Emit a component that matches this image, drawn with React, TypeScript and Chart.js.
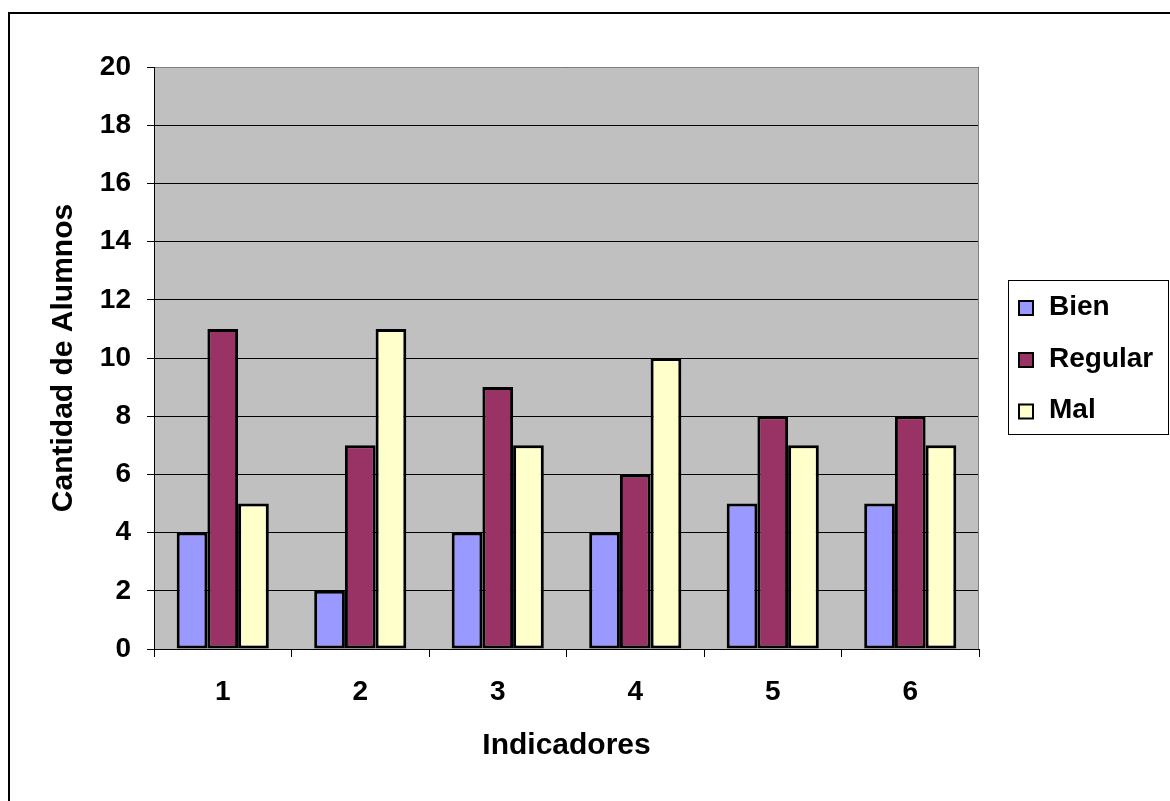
import React, { useEffect, useRef } from "react";
import { Chart, registerables } from "chart.js";

Chart.register(...registerables);

const categories = ["1", "2", "3", "4", "5", "6"];
const bien = [4, 2, 4, 4, 5, 5];
const regular = [11, 7, 9, 6, 8, 8];
const mal = [5, 11, 7, 10, 7, 7];
const seriesNames = ["Bien", "Regular", "Mal"];
const seriesColors = ["#9999FF", "#993366", "#FFFFCC"];
const yMin = 0;
const yMax = 20;
const yStep = 2;
const xTitle = "Indicadores";
const yTitle = "Cantidad de Alumnos";

const FONT = "'Liberation Sans', Arial, sans-serif";

const framePlugin = {
  id: "frame",
  beforeDraw(chart: any) {
    const { ctx, chartArea, width, height } = chart;
    ctx.save();
    ctx.fillStyle = "#FFFFFF";
    ctx.fillRect(0, 0, width, height);
    ctx.strokeStyle = "#000000";
    ctx.lineWidth = 2;
    ctx.strokeRect(9, 13, width + 10, height + 10);
    ctx.fillStyle = "#C0C0C0";
    ctx.fillRect(chartArea.left, chartArea.top, chartArea.right - chartArea.left, chartArea.bottom - chartArea.top);
    ctx.restore();
  },
  beforeDatasetsDraw(chart: any) {
    const { ctx, chartArea } = chart;
    ctx.save();
    ctx.strokeStyle = "#808080";
    ctx.lineWidth = 1;
    ctx.beginPath();
    ctx.moveTo(chartArea.left + 1, Math.round(chartArea.top) + 0.5);
    ctx.lineTo(Math.round(chartArea.right) - 0.5, Math.round(chartArea.top) + 0.5);
    ctx.lineTo(Math.round(chartArea.right) - 0.5, chartArea.bottom);
    ctx.stroke();
    ctx.restore();
  },
  afterDraw(chart: any) {
    const { ctx } = chart;
    ctx.save();
    ctx.strokeStyle = "#000000";
    ctx.lineWidth = 1;
    ctx.strokeRect(1008.5, 280.5, 160, 154);
    const centers = [308, 360, 411.5];
    chart.data.datasets.forEach((ds: any, i: number) => {
      const cy = centers[i];
      ctx.fillStyle = ds.backgroundColor;
      ctx.fillRect(1018, cy - 8, 16, 16);
      ctx.lineWidth = 2;
      ctx.strokeStyle = "#000000";
      ctx.strokeRect(1019, cy - 7, 14, 14);
      ctx.fillStyle = "#000000";
      ctx.font = `bold 28px ${FONT}`;
      ctx.textBaseline = "middle";
      ctx.textAlign = "left";
      ctx.fillText(ds.label, 1049, cy - 1);
    });
    ctx.restore();
  },
};

export default function App() {
  const canvasRef = useRef<HTMLCanvasElement | null>(null);

  useEffect(() => {
    if (!canvasRef.current) return;
    const datasetsValues = [bien, regular, mal];
    const chart = new Chart(canvasRef.current, {
      type: "bar",
      data: {
        labels: categories,
        datasets: datasetsValues.map((vals, i) => ({
          label: seriesNames[i],
          data: vals,
          backgroundColor: seriesColors[i],
          borderColor: "#000000",
          borderWidth: 3,
          borderSkipped: false,
          barPercentage: 1,
          categoryPercentage: 0.67,
        })),
      },
      options: {
        responsive: false,
        animation: false,
        layout: { padding: { top: 67, right: 191, bottom: 0, left: 0 } },
        plugins: {
          legend: { display: false },
          tooltip: { enabled: false },
        },
        scales: {
          x: {
            ticks: {
              color: "#000000",
              font: { family: FONT, size: 28, weight: "bold" },
              padding: 18,
            },
            grid: {
              display: true,
              drawOnChartArea: false,
              drawTicks: true,
              tickLength: 8,
              color: "#000000",
              offset: true,
            },
            border: { color: "#000000", width: 1 },
            title: {
              display: true,
              text: xTitle,
              color: "#000000",
              font: { family: FONT, size: 30, weight: "bold" },
              padding: { top: 0, bottom: 37 },
            },
            afterFit: (s: any) => {
              s.height = 152;
            },
          },
          y: {
            min: yMin,
            max: yMax,
            ticks: {
              stepSize: yStep,
              color: "#000000",
              font: { family: FONT, size: 28, weight: "bold" },
              padding: 16,
            },
            grid: { color: "#000000", lineWidth: 1, tickLength: 7, drawTicks: true },
            border: { color: "#000000", width: 1 },
            title: {
              display: true,
              text: yTitle,
              color: "#000000",
              font: { family: FONT, size: 30, weight: "bold" },
              padding: { top: 46, bottom: 0 },
            },
            afterFit: (s: any) => {
              s.width = 154;
            },
          },
        },
      } as any,
      plugins: [framePlugin],
    });
    return () => chart.destroy();
  }, []);

  return (
    <div style={{ position: "absolute", left: 0, top: 0, width: 1170, height: 801 }}>
      <canvas ref={canvasRef} width={1170} height={801} style={{ display: "block" }} />
    </div>
  );
}
